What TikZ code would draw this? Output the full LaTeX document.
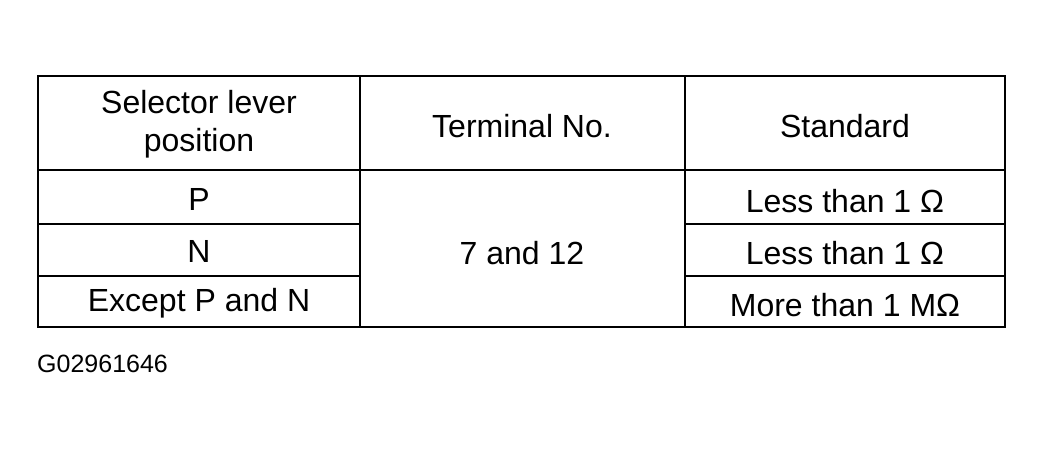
\documentclass[tikz,border=0pt]{standalone}
\usepackage{fontspec}
\setmainfont{Liberation Sans}
\begin{document}
\begin{tikzpicture}[x=1pt,y=-1pt,
  ln/.style={line width=2pt},
  cell/.style={font=\fontsize{32}{38}\selectfont,align=center,inner sep=0pt}]
\useasboundingbox (0,0) rectangle (1044,448);
\draw[ln] (38,76) rectangle (1005,327);
\draw[ln] (360,76) -- (360,327);
\draw[ln] (685,76) -- (685,327);
\draw[ln] (38,170) -- (1005,170);
\draw[ln] (38,224) -- (360,224);
\draw[ln] (38,276) -- (360,276);
\draw[ln] (685,224) -- (1005,224);
\draw[ln] (685,276) -- (1005,276);
\node[cell] (h1) at (199,124) {Selector lever\\position};
\node[cell] (h2) at (522,126) {Terminal No.};
\node[cell] (h3) at (845,126) {Standard};
\node[cell] (p) at (199,199) {P};
\node[cell] (n) at (199,251) {N};
\node[cell] (e) at (199,303) {Except P and N};
\node[cell] (t) at (522,253) {7 and 12};
\node[cell] (s1) at (845,201) {Less than 1 Ω};
\node[cell] (s2) at (845,253) {Less than 1 Ω};
\node[cell] (s3) at (845,305) {More than 1 MΩ};
\node[font=\fontsize{25}{28}\selectfont,anchor=west,inner sep=0pt] (g) at (37,364) {G02961646};
\end{tikzpicture}
\end{document}
